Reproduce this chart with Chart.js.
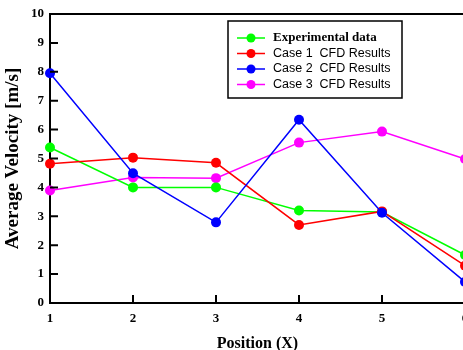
<!DOCTYPE html>
<html>
<head>
<meta charset="utf-8">
<script src="https://cdn.jsdelivr.net/npm/chart.js@4"></script>
<style>
    html, body { margin: 0; padding: 0; background: #fff; overflow: hidden; }
    .chart-box { width: 480px; height: 350px; position: relative; }
</style>
</head>
<body>
<div class="chart-box"><canvas id="myChart"></canvas></div>
<script>
// chart data
let positions = ['1', '2', '3', '4', '5', '6'],
    experimental = [5.38, 4.0, 4.0, 3.2, 3.15, 1.66],
    case1 = [4.82, 5.03, 4.85, 2.7, 3.17, 1.29],
    case2 = [7.95, 4.49, 2.79, 6.34, 3.12, 0.73],
    case3 = [3.89, 4.34, 4.32, 5.55, 5.93, 4.98],
    yTicks = [0, 1, 2, 3, 4, 5, 6, 7, 8, 9, 10]

let serif = '"Liberation Serif", "Times New Roman", serif'
let sans = '"Liberation Sans", Arial, sans-serif'

// frame, inner tick marks and boxed legend
const framePlugin = {
    id: 'frame',
    afterDraw(chart) {
        let ctx = chart.ctx
        let area = chart.chartArea
        let xs = chart.scales.x, ys = chart.scales.y
        ctx.save()
        ctx.strokeStyle = '#000'
        ctx.lineWidth = 2
        ctx.beginPath()
        ctx.moveTo(area.left, area.top)
        ctx.lineTo(area.right, area.top)
        ctx.lineTo(area.right, area.bottom)
        // y ticks pointing inward
        yTicks.forEach(v => {
            let py = ys.getPixelForValue(v)
            ctx.moveTo(area.left, py)
            ctx.lineTo(area.left + 8, py)
        })
        positions.forEach((p, i) => {
            let px = xs.getPixelForValue(i)
            ctx.moveTo(px, area.bottom)
            ctx.lineTo(px, area.bottom - 8)
        })
        ctx.stroke()

        // legend box
        let lx = 228, ly = 21, lw = 174, lh = 77
        ctx.lineWidth = 1.5
        ctx.strokeRect(lx, ly, lw, lh)
        chart.data.datasets.forEach((ds, i) => {
            let y = ly + 17 + i * 15.5
            ctx.strokeStyle = ds.borderColor
            ctx.lineWidth = 1.5
            ctx.beginPath()
            ctx.moveTo(lx + 9, y)
            ctx.lineTo(lx + 37, y)
            ctx.stroke()
            ctx.fillStyle = ds.backgroundColor
            ctx.beginPath()
            ctx.arc(lx + 23, y, 4.5, 0, Math.PI * 2)
            ctx.fill()
            ctx.fillStyle = '#000'
            ctx.textBaseline = 'middle'
            ctx.textAlign = 'left'
            ctx.font = i == 0 ? 'bold 13px ' + serif : '12.5px ' + sans
            ctx.fillText(ds.label, lx + 45, y)
        })
        ctx.restore()
    }
}

function makeSet(label, data, color, order) {
    return {
        label: label,
        data: data,
        borderColor: color,
        backgroundColor: color,
        borderWidth: 1.5,
        pointRadius: 5,
        pointHoverRadius: 5,
        pointBorderWidth: 0,
        tension: 0,
        clip: false,
        order: order
    }
}

let ctx = document.getElementById('myChart').getContext('2d')
let myChart = new Chart(ctx, {
    type: 'line',
    data: {
        labels: positions,
        datasets: [
            makeSet('Experimental data', experimental, '#00ff00', 3),
            makeSet('Case 1  CFD Results', case1, '#ff0000', 2),
            makeSet('Case 2  CFD Results', case2, '#0000ff', 0),
            makeSet('Case 3  CFD Results', case3, '#ff00ff', 4)
        ]
    },
    options: {
        responsive: true,
        maintainAspectRatio: false,
        animation: false,
        layout: { padding: { top: 14, right: 15, left: 0, bottom: 0 } },
        plugins: {
            legend: { display: false },
            tooltip: { enabled: false }
        },
        scales: {
            x: {
                type: 'category',
                offset: false,
                afterFit(scale) { scale.height = 47 },
                grid: { display: false, drawTicks: false },
                border: { display: true, color: '#000', width: 2 },
                ticks: {
                    padding: 8,
                    color: '#000',
                    font: { family: serif, size: 13, weight: 'bold' }
                },
                title: {
                    display: true,
                    text: 'Position (X)',
                    color: '#000',
                    padding: { top: 0, bottom: -2 },
                    font: { family: serif, size: 16, weight: 'bold', lineHeight: 1 }
                }
            },
            y: {
                min: 0,
                max: 10,
                afterFit(scale) { scale.width = 50 },
                afterBuildTicks(scale) { scale.ticks = yTicks.map(v => ({ value: v })) },
                grid: { display: false, drawTicks: false },
                border: { display: true, color: '#000', width: 2 },
                ticks: {
                    padding: 6,
                    color: '#000',
                    font: { family: serif, size: 13, weight: 'bold' }
                },
                title: {
                    display: true,
                    text: 'Average Velocity [m/s]',
                    color: '#000',
                    padding: { top: 4, bottom: 0 },
                    font: { family: serif, size: 19, weight: 'bold', lineHeight: 1 }
                }
            }
        }
    },
    plugins: [framePlugin]
})
</script>
</body>
</html>
